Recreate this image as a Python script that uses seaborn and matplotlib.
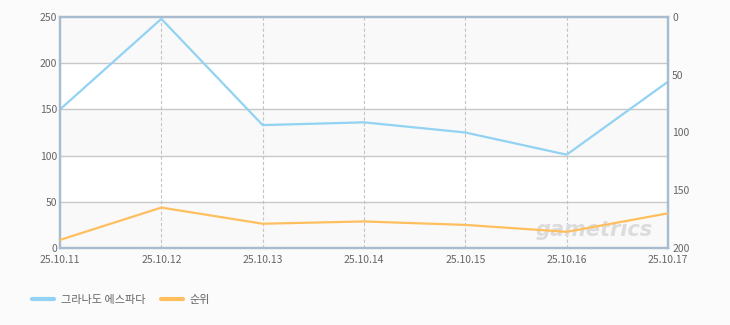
import matplotlib
matplotlib.use("Agg")
import matplotlib.pyplot as plt
import seaborn as sns
import pandas as pd

dates = ["25.10.11", "25.10.12", "25.10.13", "25.10.14", "25.10.15", "25.10.16", "25.10.17"]
game_values = [150, 248, 133, 136, 125, 101, 180]
rank_values = [193, 165, 179, 177, 180, 186, 170]
left_ticks = [0, 50, 100, 150, 200, 250]
right_ticks = [0, 50, 100, 150, 200]
series_names = ["그라나도 에스파다", "순위"]

sns.set_theme(style="white")
plt.rcParams['font.family'] = ['Noto Sans CJK KR', 'DejaVu Sans']

BG = "#fbfbfb"
SPINE = "#a8bccf"
TXT = "#666666"
BLUE = "#92d2f2"
ORANGE = "#ffbf5e"

fig = plt.figure(figsize=(7.3, 3.25), dpi=100, facecolor=BG)
ax = fig.add_axes([60/730, 1-248/325, 608/730, 231/325])
ax.set_facecolor("white")

df = pd.DataFrame({"date": dates, "x": range(len(dates)), "game": game_values, "rank": rank_values})

# alternating bands
for i in range(0, len(left_ticks) - 1, 2):
    ax.axhspan(left_ticks[i], left_ticks[i + 1], color="#f9f9f9", zorder=0, lw=0)

for t in left_ticks[1:-1]:
    ax.axhline(t, color="#c8c8c8", lw=1, zorder=1)
for xi in range(1, len(dates) - 1):
    ax.axvline(xi, color="#c4c4c4", lw=0.8, ls=(0, (3, 2)), zorder=1)

sns.lineplot(data=df, x="x", y="game", ax=ax, color=BLUE, lw=1.6, zorder=3, legend=False)
ax.set_xlim(0, len(dates) - 1)
ax.set_ylim(0, 250)
ax.set_yticks(left_ticks)
ax.set_xticks(range(len(dates)))
ax.set_xticklabels(dates)
ax.set_xlabel("")
ax.set_ylabel("")

ax2 = ax.twinx()
sns.lineplot(data=df, x="x", y="rank", ax=ax2, color=ORANGE, lw=1.6, zorder=3, legend=False)
ax2.set_ylim(200, 0)
ax2.set_yticks(right_ticks)
ax2.set_ylabel("")
ax2.set_xlim(0, len(dates) - 1)

for a in (ax, ax2):
    for s in a.spines.values():
        s.set_color(SPINE)
        s.set_linewidth(1.6)
    a.tick_params(axis="both", length=0, labelsize=7.5, labelcolor=TXT, pad=2)
ax.tick_params(axis="x", pad=5)
ax2.tick_params(axis="y", pad=3)

# watermark
ax.text(0.975, 0.08, "gametrics", transform=ax.transAxes, ha="right", va="center",
        fontsize=15, fontstyle="italic", fontweight="bold", color="#dcdcdc", zorder=2,
        family=["DejaVu Sans"])

# legend
h1, = ax.plot([], [], color=BLUE, lw=3)
h2, = ax.plot([], [], color=ORANGE, lw=3)
fig.legend([h1, h2], series_names, loc="center left", bbox_to_anchor=(22/730, 1-300/325),
           ncol=2, frameon=False, fontsize=8, labelcolor=TXT, handlelength=2.0,
           handletextpad=0.6, columnspacing=1.4)

fig.savefig("out.png", dpi=100, facecolor=BG)
